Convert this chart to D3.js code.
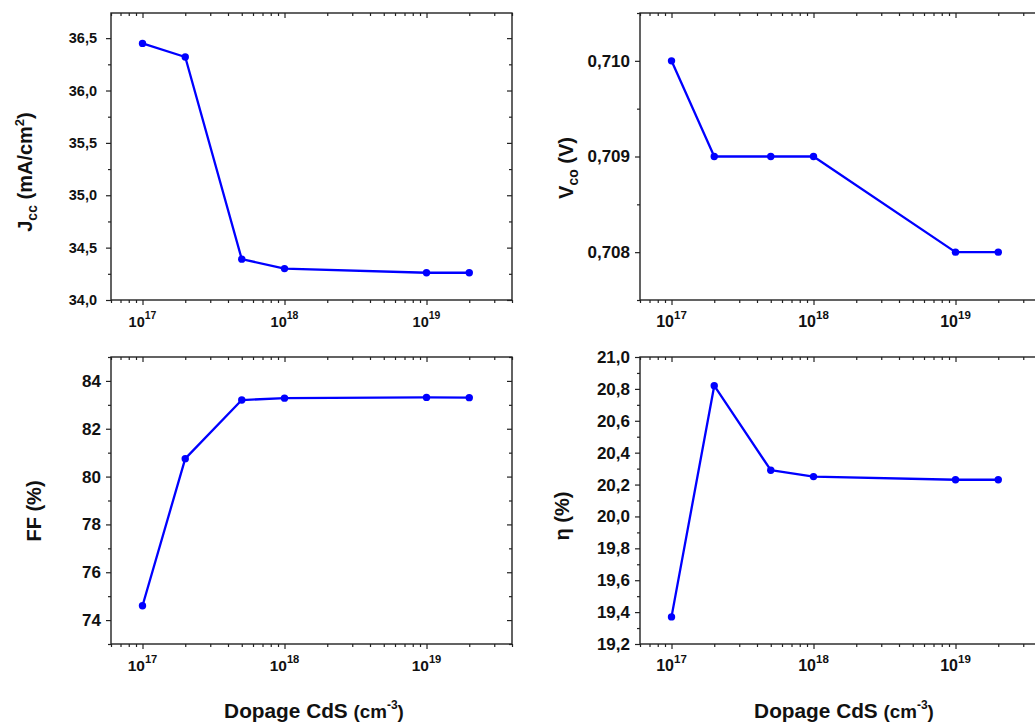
<!DOCTYPE html>
<html>
<head>
<meta charset="utf-8">
<script src="https://cdn.jsdelivr.net/npm/d3@7/dist/d3.min.js"></script>
<style>
  html, body { margin: 0; padding: 0; background: #fff; }
  svg { display: block; }
  svg text { font-family: "Liberation Sans", Arial, sans-serif; font-weight: bold; fill: #111; }
</style>
</head>
<body>
<svg id="chart" width="1035" height="724"></svg>
<script>
// ---------------- data ----------------
const dopage = [1e17, 2e17, 5e17, 1e18, 1e19, 2e19];          // cm^-3
const jcc    = [36.45, 36.32, 34.39, 34.30, 34.26, 34.26];   // mA/cm2
const vco    = [0.710, 0.709, 0.709, 0.709, 0.708, 0.708];   // V
const ff     = [74.6, 80.75, 83.2, 83.28, 83.31, 83.30];     // %
const eta    = [19.37, 20.82, 20.29, 20.25, 20.23, 20.23];   // %

const xTickExponents = [17, 18, 19];
const jccTicks = [34.0, 34.5, 35.0, 35.5, 36.0, 36.5];
const vcoTicks = [0.708, 0.709, 0.710];
const ffTicks  = [74, 76, 78, 80, 82, 84];
const etaTicks = [19.2, 19.4, 19.6, 19.8, 20.0, 20.2, 20.4, 20.6, 20.8, 21.0];

const xTitle = "Dopage CdS ";

// ---------------- layout ----------------
const svg = d3.select("#chart");
const xDomain = [6e16, 4e19];

const comma = (dec) => (d) => d.toFixed(dec).replace(".", ",");

const panels = [
  { values: jcc, ticks: jccTicks, step: 0.5, domain: [34.0, 36.74], fmt: comma(1),
    box: [111, 512, 13, 300], tickFont: 14.5, xTickFont: 14.5, labelGap: 9,
    title: [["J", 0], ["cc", "sub"], [" (mA/cm", 0], ["2", "sup"], [")", 0]],
    titlePos: [32, 172], xtitle: false },
  { values: vco, ticks: vcoTicks, step: 0.001, domain: [0.7075, 0.7105], fmt: comma(3),
    box: [640, 1041, 13, 300], tickFont: 17, xTickFont: 16, labelGap: 5,
    title: [["V", 0], ["co", "sub"], [" (V)", 0]],
    titlePos: [573, 168], xtitle: false },
  { values: ff, ticks: ffTicks, step: 2, domain: [73, 85], fmt: comma(0),
    box: [111, 512, 357, 644], tickFont: 17, xTickFont: 15.5, labelGap: 5,
    title: [["FF (%)", 0]],
    titlePos: [41, 511], xtitle: true, xtitleX: 314 },
  { values: eta, ticks: etaTicks, step: 0.2, domain: [19.2, 21.0], fmt: comma(1),
    box: [640, 1041, 357, 644], tickFont: 17, xTickFont: 16, labelGap: 5,
    title: [["η (%)", 0]],
    titlePos: [569, 516], xtitle: true, xtitleX: 844 }
];

// log minor ticks within the domain
const logMinor = [];
for (let e = 16; e <= 19; e++) {
  for (let m = 2; m <= 9; m++) {
    const v = m * Math.pow(10, e);
    if (v >= xDomain[0] && v <= xDomain[1]) logMinor.push(v);
  }
}
const logMajor = xTickExponents.map(e => Math.pow(10, e));

panels.forEach(p => {
  const [x0, x1, y0, y1] = p.box;
  const x = d3.scaleLog().domain(xDomain).range([x0, x1]);
  const y = d3.scaleLinear().domain(p.domain).range([y1, y0]);

  const yMinor = [];
  const start = Math.ceil((p.domain[0] - 1e-9) / (p.step / 2));
  for (let k = start; k * p.step / 2 <= p.domain[1] + 1e-9; k++) {
    const v = k * p.step / 2;
    if (!p.ticks.some(t => Math.abs(t - v) < 1e-9)) yMinor.push(v);
  }

  const g = svg.append("g");

  g.append("rect")
    .attr("x", x0).attr("y", y0)
    .attr("width", x1 - x0).attr("height", y1 - y0)
    .attr("fill", "none").attr("stroke", "#222").attr("stroke-width", 1.4);

  const styleAxis = (sel) => {
    sel.attr("font-family", null).attr("font-size", null);
    sel.select(".domain").remove();
    sel.selectAll("line").attr("stroke", "#222").attr("stroke-width", 1.2);
  };

  const left = g.append("g").attr("transform", `translate(${x0},0)`)
    .call(d3.axisLeft(y).tickValues(p.ticks).tickFormat(p.fmt).tickSize(5).tickPadding(p.labelGap));
  styleAxis(left);
  left.selectAll("text").style("font-size", p.tickFont + "px");
  const leftMinor = g.append("g").attr("transform", `translate(${x0},0)`)
    .call(d3.axisLeft(y).tickValues(yMinor).tickFormat("").tickSize(3));
  styleAxis(leftMinor);

  const right = g.append("g").attr("transform", `translate(${x1},0)`)
    .call(d3.axisRight(y).tickValues(p.ticks).tickFormat("").tickSize(-5));
  styleAxis(right);
  const rightMinor = g.append("g").attr("transform", `translate(${x1},0)`)
    .call(d3.axisRight(y).tickValues(yMinor).tickFormat("").tickSize(-3));
  styleAxis(rightMinor);

  const bottom = g.append("g").attr("transform", `translate(0,${y1})`)
    .call(d3.axisBottom(x).tickValues(logMajor).tickFormat("").tickSize(5));
  styleAxis(bottom);
  const bottomMinor = g.append("g").attr("transform", `translate(0,${y1})`)
    .call(d3.axisBottom(x).tickValues(logMinor).tickFormat("").tickSize(3));
  styleAxis(bottomMinor);

  const top = g.append("g").attr("transform", `translate(0,${y0})`)
    .call(d3.axisTop(x).tickValues(logMajor).tickFormat("").tickSize(-5));
  styleAxis(top);
  const topMinor = g.append("g").attr("transform", `translate(0,${y0})`)
    .call(d3.axisTop(x).tickValues(logMinor).tickFormat("").tickSize(-3));
  styleAxis(topMinor);

  xTickExponents.forEach(e => {
    const t = g.append("text")
      .attr("x", x(Math.pow(10, e)))
      .attr("y", y1 + 27)
      .attr("text-anchor", "middle")
      .style("font-size", p.xTickFont + "px");
    t.append("tspan").text("10");
    t.append("tspan").style("font-size", (p.xTickFont * 0.72) + "px")
      .attr("dy", -p.xTickFont * 0.52).text(e);
  });

  const pts = dopage.map((d, i) => [d, p.values[i]]);
  g.append("path")
    .datum(pts)
    .attr("fill", "none")
    .attr("stroke", "#0000ff")
    .attr("stroke-width", 2.3)
    .attr("stroke-linejoin", "round")
    .attr("d", d3.line().x(d => x(d[0])).y(d => y(d[1])));
  g.selectAll("circle.pt").data(pts).enter().append("circle")
    .attr("class", "pt")
    .attr("cx", d => x(d[0])).attr("cy", d => y(d[1]))
    .attr("r", 3.7).attr("fill", "#0000ff");

  const yt = g.append("text")
    .attr("transform", `translate(${p.titlePos[0]},${p.titlePos[1]}) rotate(-90)`)
    .attr("text-anchor", "middle")
    .style("font-size", "20px");
  let shift = 0;
  p.title.forEach(([txt, kind]) => {
    const ts = yt.append("tspan").text(txt);
    if (kind === "sub") { ts.style("font-size", "14px").attr("dy", 5 - shift); shift = 5; }
    else if (kind === "sup") { ts.style("font-size", "13px").attr("dy", -8 - shift); shift = -8; }
    else { if (shift !== 0) ts.attr("dy", -shift); shift = 0; }
  });

  if (p.xtitle) {
    const xt = g.append("text")
      .attr("x", p.xtitleX).attr("y", 718)
      .attr("text-anchor", "middle")
      .style("font-size", "20.8px");
    xt.append("tspan").text(xTitle);
    xt.append("tspan").style("font-size", "18.8px").text("(cm");
    xt.append("tspan").style("font-size", "12px").attr("dy", -9).text("-3");
    xt.append("tspan").style("font-size", "18.8px").attr("dy", 9).text(")");
  }
});
</script>
</body>
</html>
